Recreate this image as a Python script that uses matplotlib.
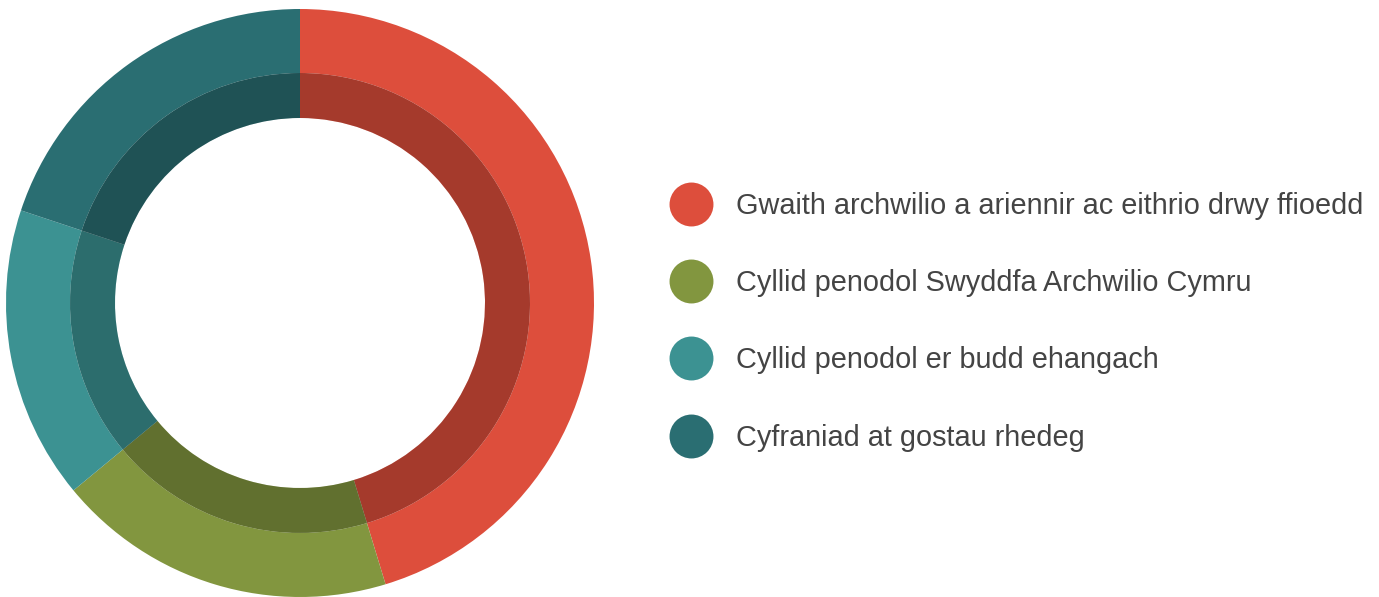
import matplotlib.pyplot as plt

labels = ["Gwaith archwilio a ariennir ac eithrio drwy ffioedd",
          "Cyllid penodol Swyddfa Archwilio Cymru",
          "Cyllid penodol er budd ehangach",
          "Cyfraniad at gostau rhedeg"]
values = [45.3, 18.7, 16.1, 19.9]
colors = ["#DD4E3C", "#82963F", "#3C9292", "#2A6E72"]

plt.rcParams['font.family'] = ['Liberation Sans', 'DejaVu Sans']

W, H = 1379, 597
fig = plt.figure(figsize=(W / 100, H / 100), dpi=100)
ax = fig.add_axes([0, 0, 1, 1])

cx, cy = 300, H - 303
R_out, R_mid, R_in = 294, 230, 185

# outer ring
ax.pie(values, colors=colors, radius=R_out, center=(cx, cy), startangle=90,
       counterclock=False, frame=True,
       wedgeprops=dict(width=R_out - R_mid, linewidth=0))
# inner darker band
ax.pie(values, colors=colors, radius=R_mid, center=(cx, cy), startangle=90,
       counterclock=False, frame=True,
       wedgeprops=dict(width=R_mid - R_in, linewidth=0))
ax.pie([1], colors=["black"], radius=R_mid, center=(cx, cy), frame=True,
       wedgeprops=dict(width=R_mid - R_in, linewidth=0, alpha=0.25))

# legend
for i, (lab, col) in enumerate(zip(labels, colors)):
    y = H - 204 - i * 77.2
    ax.scatter([691], [y], s=1000, color=col, linewidths=0)
    ax.text(736, y - 10, lab, fontsize=20.8, color="#444444", va="baseline", ha="left")

ax.set_xlim(0, W)
ax.set_ylim(0, H)
ax.set_aspect("equal")
ax.set_axis_off()

fig.savefig("out.png", dpi=100)
